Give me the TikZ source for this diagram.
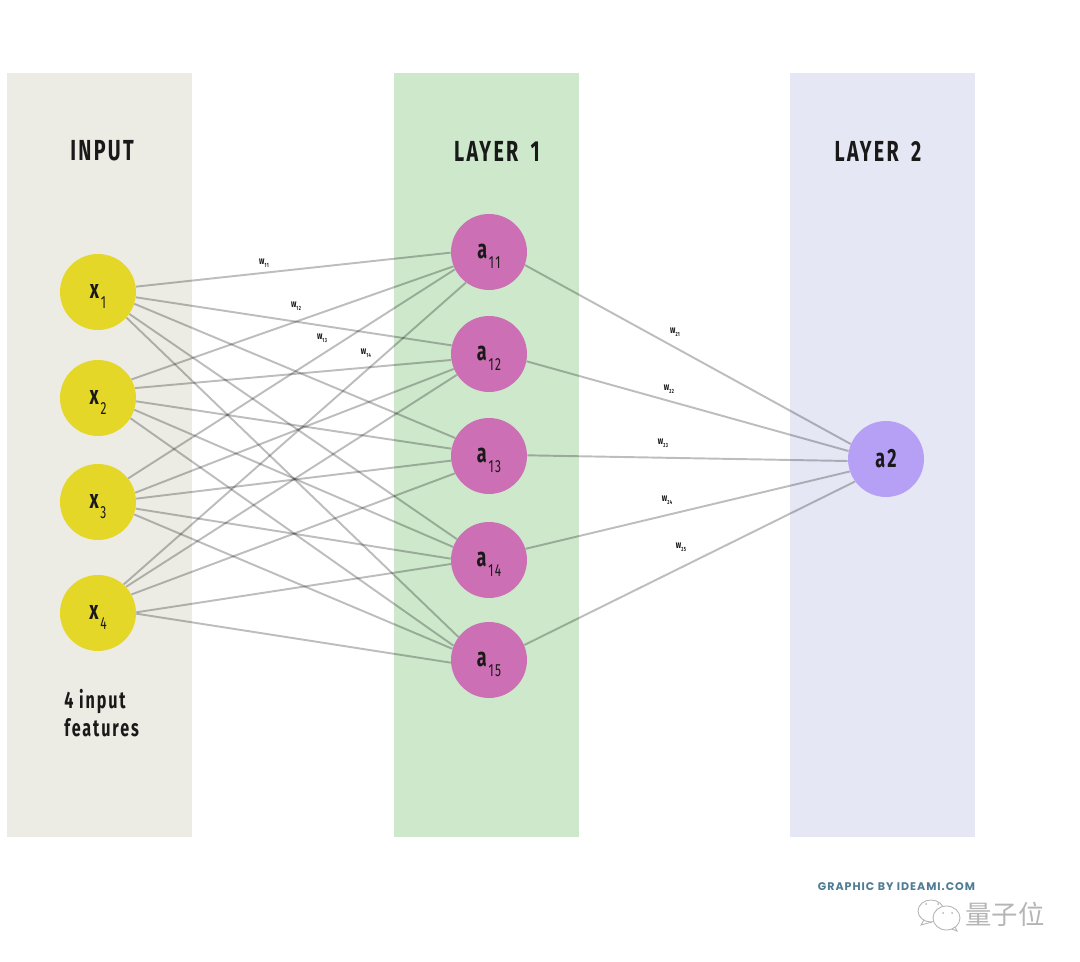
\documentclass[tikz,border=0pt]{standalone}
\usepackage{fontspec}
\setmainfont{Liberation Sans}
\newfontfamily\dinfont[FakeStretch=0.68,LetterSpace=8]{Fira Sans}
\newfontfamily\logofont[LetterSpace=9]{Poppins}
\newfontfamily\cjkfont{Noto Sans CJK SC}
\definecolor{inputbg}{HTML}{ECEBE4}
\definecolor{layeronebg}{HTML}{CDE8CB}
\definecolor{layertwobg}{HTML}{E6E7F4}
\definecolor{xfill}{HTML}{E5D728}
\definecolor{afill}{HTML}{CC6FB4}
\definecolor{outfill}{HTML}{B6A0F5}
\definecolor{logocol}{HTML}{4F7C93}
\definecolor{markcol}{HTML}{B5B5B5}
\newcommand{\sublab}[2]{#1\hspace{1pt}\raisebox{-0.65ex}[0pt][0pt]{\mdseries\fontsize{10}{11}\selectfont #2}}
\newcommand{\wlab}[2]{#1\raisebox{-0.45ex}[0pt][0pt]{\fontsize{3.4}{4}\selectfont #2}}
\tikzset{
    panel/.style={minimum width=3.7cm,minimum height=15.28cm,inner sep=0pt},
    title/.style={font=\dinfont\bfseries\fontsize{16.5}{18}\selectfont,text=black!90},
    neuron/.style={circle,minimum size=1.52cm,inner sep=0pt,font=\dinfont\bfseries\fontsize{15}{16}\selectfont,text=black!90},
    wtext/.style={font=\dinfont\bfseries\fontsize{6}{7}\selectfont,inner sep=0pt,text=black!90},
    edge/.style={draw=black,opacity=0.26,line width=1.1pt}
}
\begin{document}
\begin{tikzpicture}[x=0.02cm,y=-0.02cm]
    \useasboundingbox (0,0) rectangle (1080,962);
    % columns
    \node[panel,fill=inputbg] (inputbox) at (99.5,454.8) {};
    \node[panel,fill=layeronebg] (oneb) at (486.5,454.8) {};
    \node[panel,fill=layertwobg] (twob) at (882.5,454.8) {};
    \node[title] (inputt) at (102,151) {INPUT};
    \node[title] (onet) at (497,151) {LAYER\hspace{3pt} 1};
    \node[title] (twot) at (878,151) {LAYER\hspace{3pt} 2};

    % neurons
    \node[neuron,fill=xfill] (x1) at (98,292) {\sublab{x}{1}};
    \node[neuron,fill=xfill] (x2) at (98,398) {\sublab{x}{2}};
    \node[neuron,fill=xfill] (x3) at (98,502) {\sublab{x}{3}};
    \node[neuron,fill=xfill] (x4) at (98,613) {\sublab{x}{4}};
    \node[neuron,fill=afill] (a1) at (489,252) {\sublab{a}{11}};
    \node[neuron,fill=afill] (a2) at (489,354) {\sublab{a}{12}};
    \node[neuron,fill=afill] (a3) at (489,456) {\sublab{a}{13}};
    \node[neuron,fill=afill] (a4) at (489,560) {\sublab{a}{14}};
    \node[neuron,fill=afill] (a5) at (489,660) {\sublab{a}{15}};
    \node[neuron,fill=outfill] (out) at (886,459) {a2};

    % connectors, border angles
    \foreach \i/\j/\p/\q in {1/1/8.7/181.5,1/2/-8.7/167.8,1/3/-18.9/152.1,1/4/-35.7/147.5,1/5/-42/143.4,
                             2/1/29.2/202.2,2/2/15.8/189.2,2/3/-5.9/169.3,2/4/-18/160.1,2/5/-32.5/158.7,
                             3/1/38/207.2,3/2/14.4/203.2,3/3/5.7/187.7,3/4/-10.2/178.5,3/5/-19.4/163.4,
                             4/1/48/233,4/2/43/213.7,4/3/29.7/207.8,4/4/1.5/186.2,4/5/-1.5/184.6}
        \draw[edge] (x\i.\p) -- (a\j.\q);
    \foreach \j/\p/\q in {1/-20.2/157.4,2/-11.9/168,3/1.5/183,4/17/199.9,5/23/216.6}
        \draw[edge] (a\j.\p) -- (out.\q);

    % weights
    \node[wtext] (w11) at (264,262) {\wlab{w}{11}};
    \node[wtext] (w12) at (296,305) {\wlab{w}{12}};
    \node[wtext] (w13) at (322,337) {\wlab{w}{13}};
    \node[wtext] (w14) at (366,352) {\wlab{w}{14}};
    \node[wtext] (w21) at (675,331) {\wlab{w}{21}};
    \node[wtext] (w22) at (669,388) {\wlab{w}{22}};
    \node[wtext] (w23) at (663,442) {\wlab{w}{23}};
    \node[wtext] (w24) at (667,499) {\wlab{w}{24}};
    \node[wtext] (w25) at (681,546) {\wlab{w}{25}};

    \node[font=\dinfont\bfseries\fontsize{13.5}{16}\selectfont,align=left,anchor=north west,inner sep=0pt,text=black!90] (feat) at (64,689) {4 input\\features};

    % footer
    \node[font=\logofont\bfseries\fontsize{6.3}{7}\selectfont,text=logocol,inner sep=0pt] (logo) at (896.5,887) {GRAPHIC BY IDEAMI.COM};
    \node[font=\cjkfont\fontsize{15}{16}\selectfont,text=markcol,inner sep=0pt] (qbit) at (1005,914) {量子位};
    \draw[markcol,line width=0.5pt,fill=white] (931,911) ellipse (13 and 11);
    \draw[markcol,line width=0.5pt] (924,920) -- (921,925) -- (932,922);
    \draw[markcol,line width=0.5pt,fill=white] (946.5,918) ellipse (13.5 and 12);
    \draw[markcol,line width=0.5pt] (952,929) -- (957,931) -- (955,927);
    \foreach \ex/\ey in {926/904,938/904,943/913,952/913}
        \fill[markcol] (\ex,\ey) circle (1);
\end{tikzpicture}
\end{document}
